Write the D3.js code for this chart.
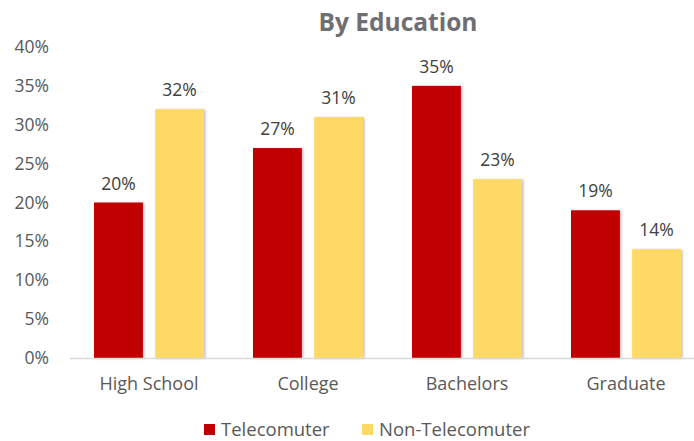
<!DOCTYPE html>
<html><head><meta charset="utf-8">
<script src="https://cdn.jsdelivr.net/npm/d3@7/dist/d3.min.js"></script>
<style>body{margin:0;background:#fff;}svg{display:block;}</style>
</head><body>
<svg id="c" width="694" height="441"></svg>
<script>
const categories = ["High School", "College", "Bachelors", "Graduate"];
const seriesNames = ["Telecomuter", "Non-Telecomuter"];
const telecomuter = [20, 27, 35, 19];
const nonTelecomuter = [32, 31, 23, 14];
const yTicks = [0, 5, 10, 15, 20, 25, 30, 35, 40];
const colors = ["#C00000", "#FFD966"];

const svg = d3.select("#c");
const font = "'Open Sans', 'Noto Sans', sans-serif";
const defs = svg.append("defs");
const f = defs.append("filter").attr("id","sh").attr("x","-20%").attr("y","-10%").attr("width","150%").attr("height","120%");
f.append("feDropShadow").attr("dx",1.5).attr("dy",0.5).attr("stdDeviation",1.2).attr("flood-color","#000").attr("flood-opacity",0.25);

const x = d3.scaleBand().domain(categories).range([69.5, 705.5]);
const x1 = d3.scaleBand().domain(seriesNames).range([x.bandwidth()/2 - 55, x.bandwidth()/2 + 55]).paddingInner(0.2);
const y = d3.scaleLinear().domain([0, 40]).range([358, 47]);

// y axis labels
const ya = svg.append("g").attr("transform","translate(49,0)")
  .call(d3.axisLeft(y).tickValues(yTicks).tickFormat(d => d + "%").tickSize(0).tickPadding(0));
ya.select(".domain").remove();
ya.selectAll("text").attr("font-family", font).attr("font-size", 17.5).attr("fill", "#595959");

const data = [telecomuter, nonTelecomuter];
const groups = svg.append("g").selectAll("g").data(categories).join("g")
  .attr("transform", d => `translate(${x(d)},0)`);

seriesNames.forEach((s, si) => {
  groups.append("rect")
    .attr("x", x1(s)).attr("width", x1.bandwidth())
    .attr("y", (d, i) => y(data[si][i]))
    .attr("height", (d, i) => y(0) - y(data[si][i]))
    .attr("fill", colors[si]).attr("filter", "url(#sh)");
  groups.append("text")
    .attr("x", x1(s) + x1.bandwidth()/2)
    .attr("y", (d, i) => y(data[si][i]) - 13)
    .attr("text-anchor", "middle")
    .attr("font-family", font).attr("font-size", 17.5).attr("fill", "#404040")
    .text((d, i) => data[si][i] + "%");
});

// x axis
const xa = svg.append("g").attr("transform", `translate(0,${y(0)})`)
  .call(d3.axisBottom(x).tickSize(0).tickPadding(19));
xa.select(".domain").attr("stroke", "#d9d9d9").attr("stroke-width", 1.5);
xa.selectAll("text").attr("font-family", font).attr("font-size", 18).attr("fill", "#595959");

// title
svg.append("text").attr("x", 398).attr("y", 31).attr("text-anchor","middle")
  .attr("font-family", font).attr("font-weight", 700).attr("font-size", 24.5).attr("fill", "#6e6e73")
  .text("By Education");

// legend
const legX = [204, 362];
const lg = svg.append("g").selectAll("g").data(seriesNames).join("g")
  .attr("transform", (d, i) => `translate(${legX[i]},424)`);
lg.append("rect").attr("width", 11).attr("height", 11).attr("fill", (d, i) => colors[i]);
lg.append("text").attr("x", 17).attr("y", 12).attr("font-family", font).attr("font-size", 18.5)
  .attr("fill", "#595959").text(d => d);
</script>
</body></html>
